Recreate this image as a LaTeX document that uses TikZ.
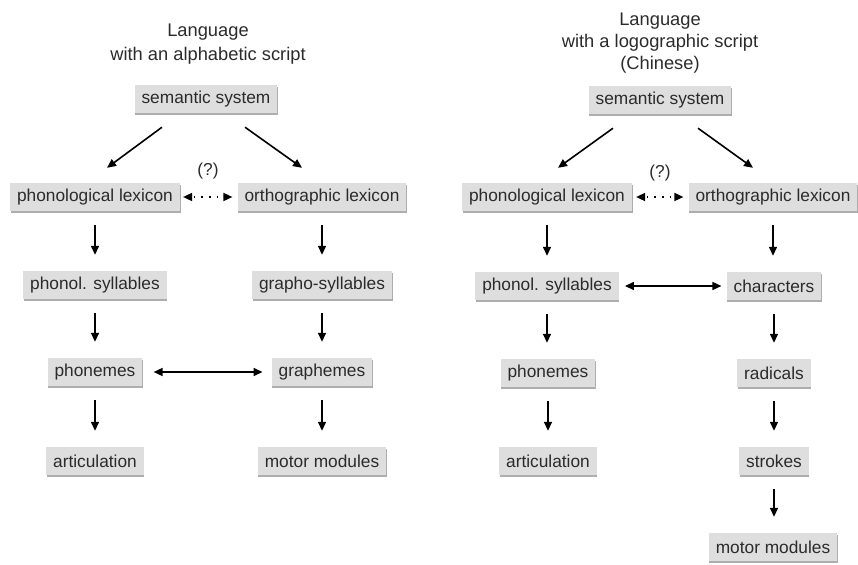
\documentclass[tikz,border=0pt]{standalone}
\usepackage{fontspec}
\setmainfont{Liberation Sans}
\usetikzlibrary{arrows.meta,shadows}
\definecolor{boxgray}{HTML}{DEDEDE}
\definecolor{inkgray}{HTML}{2B2B2B}
\tikzset{
  stage/.style={fill=boxgray, minimum height=28pt, inner xsep=7pt, inner ysep=0pt,
    text=inkgray, font=\fontsize{17.3}{20}\selectfont,
    drop shadow={shadow xshift=0.6pt, shadow yshift=-1.6pt, fill=black!70, opacity=0.45}},
  headline/.style={anchor=base, text=inkgray, font=\fontsize{18.3}{22}\selectfont, inner sep=0pt},
  query/.style={text=inkgray, font=\fontsize{17.3}{20}\selectfont, inner sep=0pt},
  flow/.style={-{Triangle[length=9pt,width=8pt]}, line width=1.6pt},
  twoway/.style={{Triangle[length=9pt,width=8pt]}-{Triangle[length=9pt,width=8pt]}, line width=1.6pt},
  maybe/.style={{Triangle[length=9pt,width=8pt]}-{Triangle[length=9pt,width=8pt]}, line width=1.6pt,
    dash pattern=on 1.6pt off 6pt, dash phase=-2pt},
}
\begin{document}
\begin{tikzpicture}[x=1pt,y=-1pt]
\useasboundingbox (0,0) rectangle (858,564);

% ---------- alphabetic script ----------
\node[headline] (titleL1) at (208,37) {Language};
\node[headline] (titleL2) at (208,61) {with an alphabetic script};

\node[stage] (semL)   at (206,99)  {semantic system};
\node[stage] (plexL)  at (95,197)  {phonological lexicon};
\node[stage] (olexL)  at (322,197) {orthographic lexicon};
\node[stage] (psylL)  at (95,285)  {phonol. syllables};
\node[stage] (gsylL)  at (322,285) {grapho-syllables};
\node[stage] (phonL)  at (95,372)  {phonemes};
\node[stage] (grphL)  at (322,372) {graphemes};
\node[stage] (artL)   at (95,461)  {articulation};
\node[stage] (motL)   at (322,461) {motor modules};
\node[query] (qL) at (208,171) {(?)};

\draw[flow] ([xshift=-44pt,yshift=-14pt]semL.south) -- ([xshift=12pt,yshift=15pt]plexL.north);
\draw[flow] ([xshift=39pt,yshift=-14pt]semL.south) -- ([xshift=-20pt,yshift=15pt]olexL.north);
\draw[maybe, shorten <=3pt, shorten >=5pt] (plexL) -- (olexL);
\foreach \a/\b in {plexL/psylL, psylL/phonL, phonL/artL, olexL/gsylL, gsylL/grphL, grphL/motL}
  \draw[flow, shorten <=14pt, shorten >=16pt] (\a) -- (\b);
\draw[twoway, shorten <=11pt, shorten >=9pt] (phonL) -- (grphL);

% ---------- logographic script ----------
\node[headline] (titleR1) at (660,26) {Language};
\node[headline] (titleR2) at (660,48) {with a logographic script};
\node[headline] (titleR3) at (660,70) {(Chinese)};

\node[stage] (semR)   at (660,100) {semantic system};
\node[stage] (plexR)  at (547,197) {phonological lexicon};
\node[stage] (olexR)  at (773,197) {orthographic lexicon};
\node[stage] (psylR)  at (547,286) {phonol. syllables};
\node[stage] (charR)  at (774,286) {characters};
\node[stage] (phonR)  at (548,373) {phonemes};
\node[stage] (radR)   at (774,373) {radicals};
\node[stage] (artR)   at (548,461) {articulation};
\node[stage] (strR)   at (774,461) {strokes};
\node[stage] (motR)   at (773,547) {motor modules};
\node[query] (qR) at (660,173) {(?)};

\draw[flow] ([xshift=-47pt,yshift=-14pt]semR.south) -- ([xshift=11pt,yshift=15pt]plexR.north);
\draw[flow] ([xshift=38pt,yshift=-14pt]semR.south) -- ([xshift=-20pt,yshift=15pt]olexR.north);
\draw[maybe, shorten <=4pt, shorten >=5pt] (plexR) -- (olexR);
\foreach \a/\b in {plexR/psylR, psylR/phonR, phonR/artR, olexR/charR, charR/radR, radR/strR, strR/motR}
  \draw[flow, shorten <=14pt, shorten >=16pt] (\a.south) -- (\a.south |- \b.north);
\draw[twoway, shorten <=6pt, shorten >=5pt] (psylR) -- (charR);
\end{tikzpicture}
\end{document}
